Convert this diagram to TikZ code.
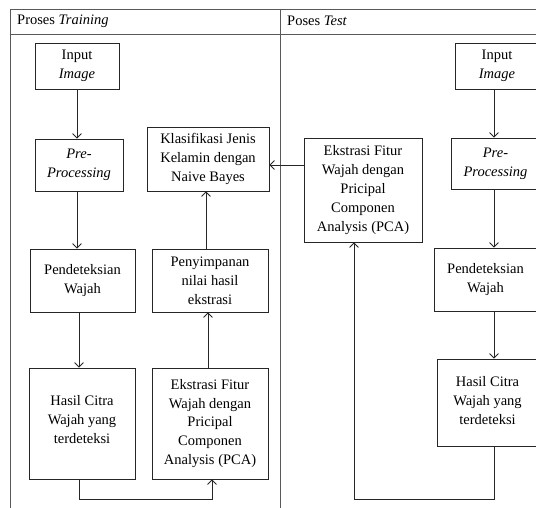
\documentclass[tikz,border=0pt]{standalone}
\usepackage{fontspec}
\setmainfont{Liberation Serif}
\usetikzlibrary{arrows.meta}
\begin{document}
\begin{tikzpicture}[x=1pt,y=-1pt,
  box/.style={draw=black!85, line width=0.8pt, align=center, inner sep=0pt,
    font=\fontsize{14.5}{18.8}\selectfont},
  frame/.style={draw=black!65, line width=0.9pt},
  conn/.style={draw=black!85, line width=0.8pt},
  arr/.style={conn, -{Straight Barb[length=4.5pt,width=9pt,line width=0.8pt]}},
  hdr/.style={anchor=west, inner sep=0pt, font=\fontsize{14.5}{17}\selectfont}]
\useasboundingbox (0,0) rectangle (536,508);
\clip (0,0) rectangle (536,508);
% frame
\coordinate (tl) at (10,9);
\coordinate (tr) at (537,9);
\coordinate (hl) at (10,34);
\coordinate (hr) at (537,34);
\coordinate (bl) at (10,509);
\coordinate (dt) at (280,9);
\coordinate (db) at (280,509);
\draw[frame] (tr) -- (tl) -- (bl);
\draw[frame] (hl) -- (hr);
\draw[frame] (dt) -- (db);
\node[hdr] (h1) at (17,21) {Proses \textit{Training}};
\node[hdr] (h2) at (287,21) {Poses \textit{Test}};
% left column
\node[box, minimum width=84, minimum height=46] (inL) at (77,66) {Input\\\textit{Image}};
\node[box, minimum width=88, minimum height=52] (preL) at (79,165) {\textit{Pre-}\\\textit{Processing}};
\node[box, minimum width=105, minimum height=63] (pdL) at (82.5,280.5) {Pendeteksian\\Wajah};
\node[box, minimum width=106, minimum height=111, text depth=8pt] (hcL) at (82,423.5) {Hasil Citra\\Wajah yang\\terdeteksi};
\node[box, minimum width=116, minimum height=111] (ekL) at (210,423.5) {Ekstrasi Fitur\\Wajah dengan\\Pricipal\\Componen\\Analysis (PCA)};
\node[box, minimum width=116, minimum height=63] (pyL) at (210,280.5) {Penyimpanan\\nilai hasil\\ekstrasi};
\node[box, minimum width=122, minimum height=64] (klL) at (208,159) {Klasifikasi Jenis\\Kelamin dengan\\Naive Bayes};
% right column
\node[box, minimum width=118, minimum height=104] (ekR) at (363,190) {Ekstrasi Fitur\\Wajah dengan\\Pricipal\\Componen\\Analysis (PCA)};
\node[box, minimum width=84, minimum height=46] (inR) at (497,66) {Input\\\textit{Image}};
\node[box, minimum width=89, minimum height=51] (prR) at (495.5,163.5) {\textit{Pre-}\\\textit{Processing}};
\node[box, minimum width=103, minimum height=63] (pdR) at (485.5,279.5) {Pendeteksian\\Wajah};
\node[box, minimum width=101, minimum height=87, text depth=4pt] (hcR) at (487.5,402.5) {Hasil Citra\\Wajah yang\\terdeteksi};
% connectors left
\draw[arr] ([xshift=0pt]inL.south) -- (inL.south |- preL.north);
\draw[arr] ([xshift=-2pt]preL.south) -- ([xshift=-2pt]preL.south |- pdL.north);
\draw[arr] ([xshift=-3.5pt]pdL.south) -- ([xshift=-3.5pt]pdL.south |- hcL.north);
\coordinate (lpA) at (79,499);
\coordinate (lpB) at (212,499);
\draw[arr] ([xshift=-3pt]hcL.south) -- (lpA) -- (lpB) -- (lpB |- ekL.south);
\draw[arr] ([xshift=-2pt]ekL.north) -- ([xshift=-2pt]ekL.north |- pyL.south);
\draw[arr] ([xshift=-4pt]pyL.north) -- ([xshift=-4pt]pyL.north |- klL.south);
\draw[arr] (ekR.west |- 0,165) -- (klL.east |- 0,165);
% connectors right
\draw[arr] ([xshift=-3pt]inR.south) -- ([xshift=-3pt]inR.south |- prR.north);
\draw[arr] ([xshift=-1.5pt]prR.south) -- ([xshift=-1.5pt]prR.south |- pdR.north);
\draw[arr] ([xshift=8.5pt]pdR.south) -- ([xshift=8.5pt]pdR.south |- hcR.north);
\coordinate (rpA) at (494,499);
\coordinate (rpB) at (354,499);
\draw[arr] ([xshift=6.5pt]hcR.south) -- (rpA) -- (rpB) -- (rpB |- ekR.south);
\end{tikzpicture}
\end{document}
